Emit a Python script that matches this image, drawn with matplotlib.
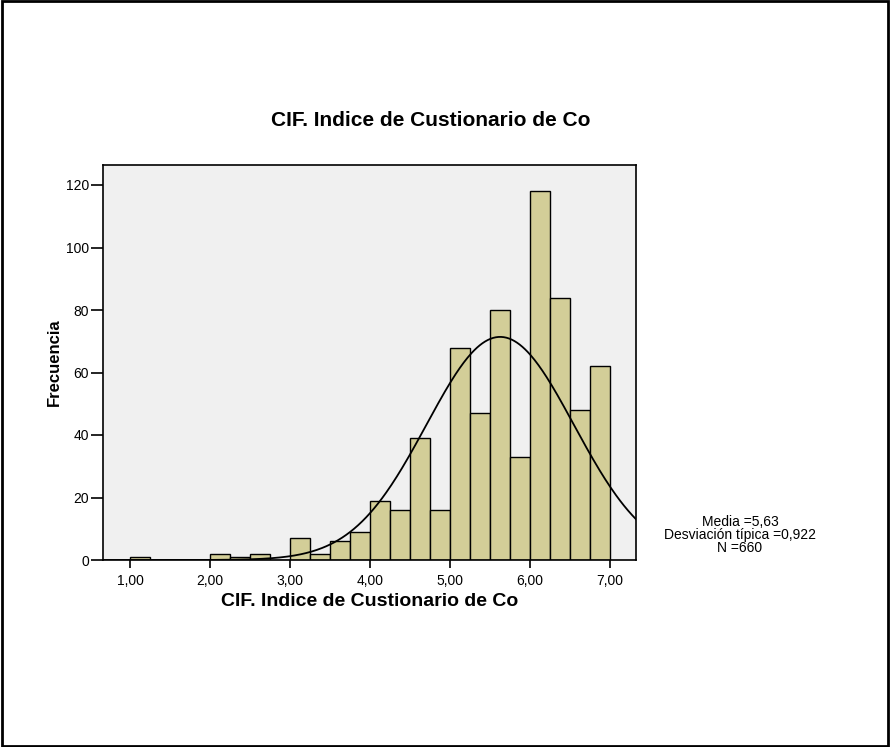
import numpy as np
import matplotlib.pyplot as plt
from matplotlib.patches import Rectangle

plt.rcParams['font.family'] = ['Liberation Sans', 'DejaVu Sans']

# histogram bins (width 0,25) and counts
bin_left = [1.00, 1.25, 1.50, 1.75, 2.00, 2.25, 2.50, 2.75, 3.00, 3.25, 3.50,
            3.75, 4.00, 4.25, 4.50, 4.75, 5.00, 5.25, 5.50, 5.75, 6.00, 6.25,
            6.50, 6.75]
counts = [1, 0, 0, 0, 2, 1, 2, 0, 7, 2, 6,
          9, 19, 16, 39, 16, 68, 47, 80, 33, 118, 84,
          48, 62]
bin_w = 0.25

media = 5.63
desv = 0.922
n = 660

xticks = [1, 2, 3, 4, 5, 6, 7]
xticklabels = ['1,00', '2,00', '3,00', '4,00', '5,00', '6,00', '7,00']
yticks = [0, 20, 40, 60, 80, 100, 120]

fig = plt.figure(figsize=(8.9, 7.47), dpi=100)
ax = fig.add_axes([103/890, 1 - 560/747, 533/890, 395/747])
ax.set_facecolor('#f0f0f0')

ax.bar(bin_left, counts, width=bin_w, align='edge', color='#d3ce98',
       edgecolor='black', linewidth=1.0, zorder=2)

# curva normal
xs = np.linspace(0.66, 7.33, 400)
ys = n * bin_w / (desv * np.sqrt(2 * np.pi)) * np.exp(-0.5 * ((xs - media) / desv) ** 2)
ax.plot(xs, ys, color='black', linewidth=1.3, zorder=3)

ax.set_xlim(0.66, 7.33)
ax.set_ylim(0, 126.4)
ax.set_xticks(xticks)
ax.set_xticklabels(xticklabels, fontsize=10)
ax.set_yticks(yticks)
ax.set_yticklabels([str(v) for v in yticks], fontsize=10)
ax.tick_params(axis='x', direction='out', length=6, width=1.2, pad=4, colors='black')
ax.tick_params(axis='y', direction='out', length=9, width=1.2, pad=1, colors='black')
for s in ax.spines.values():
    s.set_linewidth(1.2)

ax.set_xlabel('CIF. Indice de Custionario de Co', fontsize=14, fontweight='bold', labelpad=4)
ax.set_ylabel('Frecuencia', fontsize=12, fontweight='bold', labelpad=3)

fig.text(431/890, 1 - 120/747, 'CIF. Indice de Custionario de Co', fontsize=15,
         fontweight='bold', ha='center', va='center')

stats = 'Media =%s\nDesviación típica =%s\nN =%d' % (
    f'{media:.2f}'.replace('.', ','), f'{desv:.3f}'.replace('.', ','), n)
fig.text(740/890, 1 - 535/747, stats, fontsize=10, ha='center', va='center',
         linespacing=0.92)

fig.patches.append(Rectangle((0.002, 0.002), 0.996, 0.996, transform=fig.transFigure,
                             fill=False, edgecolor='black', linewidth=2))

fig.savefig('out.png', dpi=100)
